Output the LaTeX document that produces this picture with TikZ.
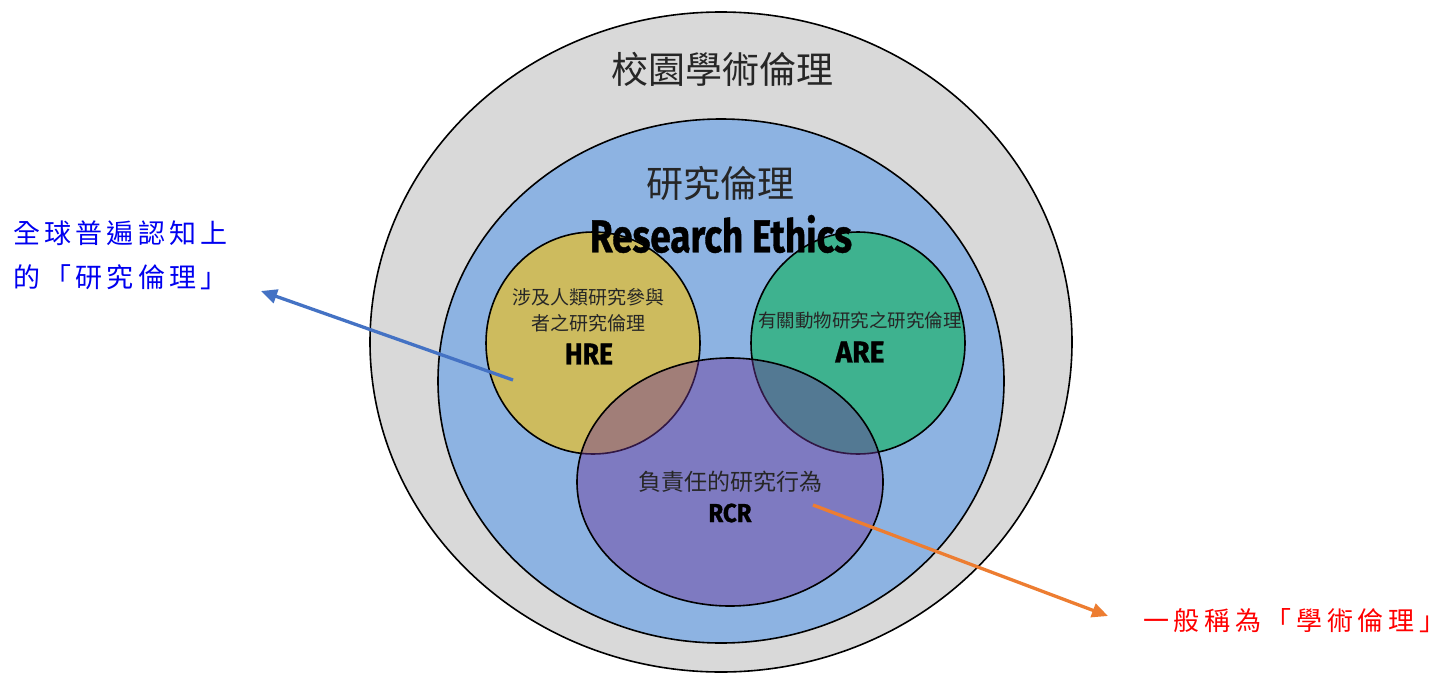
\documentclass[tikz,border=0pt]{standalone}
\usepackage{fontspec}
\usepackage{graphicx}
\usetikzlibrary{arrows.meta}
\newfontfamily\cjk{Noto Sans CJK TC}
\newfontfamily\cjksp{Noto Sans CJK TC}[LetterSpace=18]
\newfontfamily\cjkspl{Noto Sans CJK TC}[LetterSpace=16]
\newfontfamily\heavy{Fira Sans}[FakeBold=1]
\definecolor{ringgray}{HTML}{D9D9D9}
\definecolor{ringblue}{HTML}{8DB3E2}
\definecolor{hreyellow}{HTML}{CDBB5E}
\definecolor{aregreen}{HTML}{3EB28F}
\definecolor{rcrpurple}{HTML}{6D3599}
\definecolor{txtgray}{HTML}{262626}
\definecolor{arrblue}{HTML}{4472C4}
\definecolor{arrorange}{HTML}{ED7D31}
\definecolor{notered}{HTML}{FF0000}
\definecolor{noteblue}{HTML}{0000F0}
\tikzset{
  set/.style={draw=black, line width=1.6pt},
  lbl/.style={inner sep=0pt, outer sep=0pt, text=txtgray, align=center},
  pointer/.style={line width=3.3pt, -{Triangle[length=16pt,width=14pt]}},
  note/.style={inner sep=0pt, outer sep=0pt, anchor=west, align=left}
}
\begin{document}
\begin{tikzpicture}[x=1pt,y=-1pt]
\useasboundingbox (0,0) rectangle (1447,672);
\fill[white] (0,0) rectangle (1447,672);
\begin{scope}
\clip (0,0) rectangle (1447,672);
% sets
\draw[set, fill=ringgray] (721,342) ellipse [x radius=351, y radius=330];
\draw[set, fill=ringblue] (721,381) ellipse [x radius=283, y radius=262];
\draw[set, fill=hreyellow] (593,343) ellipse [x radius=107, y radius=111];
\draw[set, fill=aregreen] (858,343) ellipse [x radius=107, y radius=111];
\fill[rcrpurple, fill opacity=0.45] (730,482) ellipse [x radius=153, y radius=124];
\draw[set] (730,482) ellipse [x radius=153, y radius=124];
\end{scope}
% labels
\node[lbl, font=\cjk\fontsize{37}{37}\selectfont] (campus) at (722,69) {校園學術倫理};
\node[lbl, font=\cjk\fontsize{37}{37}\selectfont] (re) at (720,183) {研究倫理};
\node[lbl, text=black] (reen) at (721,234) {\resizebox{262pt}{\height}{\fontsize{46}{46}\heavy\bfseries Research Ethics}};
\node[lbl, font=\cjk\fontsize{19}{26}\selectfont] (hrezh) at (588,310) {涉及人類研究參與\\者之研究倫理};
\node[lbl, text=black] (hre) at (589,354) {\resizebox{48pt}{\height}{\fontsize{30}{30}\heavy\bfseries HRE}};
\node[lbl, font=\cjk\fontsize{18.5}{18.5}\selectfont] (arezh) at (860,320) {有關動物研究之研究倫理};
\node[lbl, text=black] (are) at (860,352) {\resizebox{49pt}{\height}{\fontsize{30}{30}\heavy\bfseries ARE}};
\node[lbl, font=\cjk\fontsize{23}{23}\selectfont] (rcrzh) at (730,482) {負責任的研究行為};
\node[lbl, text=black] (rcr) at (730,513) {\resizebox{43pt}{\height}{\fontsize{26}{26}\heavy\bfseries RCR}};
% notes
\node[note, text=noteblue, font=\cjkspl\fontsize{27}{44}\selectfont] (noteL) at (13,255) {全球普遍認知上\\的「研究倫理」};
\node[note, text=notered, font=\cjksp\fontsize{26}{26}\selectfont] (noteR) at (1143,621) {一般稱為「學術倫理」};
% pointers
\coordinate (hreP) at (513,380);
\coordinate (tipL) at (261,291);
\coordinate (rcrP) at (813,505);
\coordinate (tipR) at (1108,616);
\draw[pointer, arrblue] (hreP) -- (tipL);
\draw[pointer, arrorange] (rcrP) -- (tipR);
\end{tikzpicture}
\end{document}
